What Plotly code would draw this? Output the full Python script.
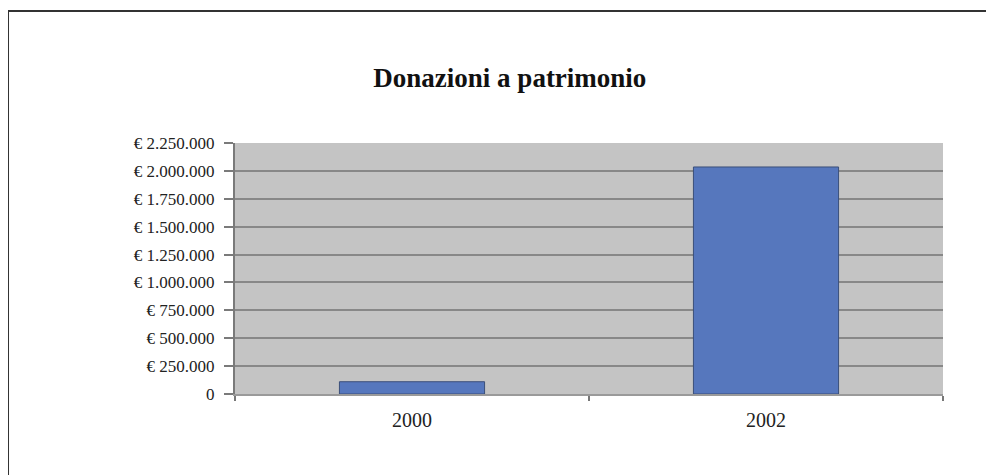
import plotly.graph_objects as go

years = ["2000", "2002"]
donazioni = [110000, 2035000]
tick_vals = [0, 250000, 500000, 750000, 1000000, 1250000, 1500000, 1750000, 2000000, 2250000]
tick_text = ["0", "€ 250.000", "€ 500.000", "€ 750.000", "€ 1.000.000", "€ 1.250.000",
             "€ 1.500.000", "€ 1.750.000", "€ 2.000.000", "€ 2.250.000"]

fig = go.Figure()
fig.add_trace(go.Bar(
    x=years, y=donazioni,
    marker=dict(color="#5677bd", line=dict(color="#3b4f7a", width=1)),
    width=0.41,
))

serif = "Liberation Serif, Times New Roman, serif"
fig.update_layout(
    width=986, height=467,
    margin=dict(l=227, r=51, t=135, b=81),
    paper_bgcolor="white",
    plot_bgcolor="#c4c4c4",
    showlegend=False,
    title=dict(text="<b>Donazioni a patrimonio</b>", x=0.509, xanchor="center",
               y=(467 - 70) / 467, yanchor="middle",
               font=dict(family=serif, size=27, color="#111")),
    font=dict(family=serif, size=17, color="#222"),
    shapes=[dict(type="rect", xref="paper", yref="paper",
                 x0=-0.3206, x1=1.1, y0=-0.36, y1=1.526,
                 line=dict(color="#333", width=2), fillcolor="rgba(0,0,0,0)", layer="below")],
)
fig.update_yaxes(
    range=[0, 2250000], tickvals=tick_vals, ticktext=tick_text,
    showgrid=True, gridcolor="#888888", gridwidth=1.5,
    showline=True, linecolor="#7a7a7a", linewidth=2,
    ticks="outside", ticklen=9, tickcolor="#7a7a7a", tickwidth=2,
    ticklabelstandoff=6,
    zeroline=False,
)
fig.update_xaxes(
    type="category",
    showline=True, linecolor="#9a9a9a", linewidth=1.5,
    ticks="outside", tickson="boundaries", ticklen=5, tickcolor="#777", tickwidth=2,
    tickfont=dict(size=20), ticklabelstandoff=7,
    showgrid=False,
)
fig.write_html("out.html")
